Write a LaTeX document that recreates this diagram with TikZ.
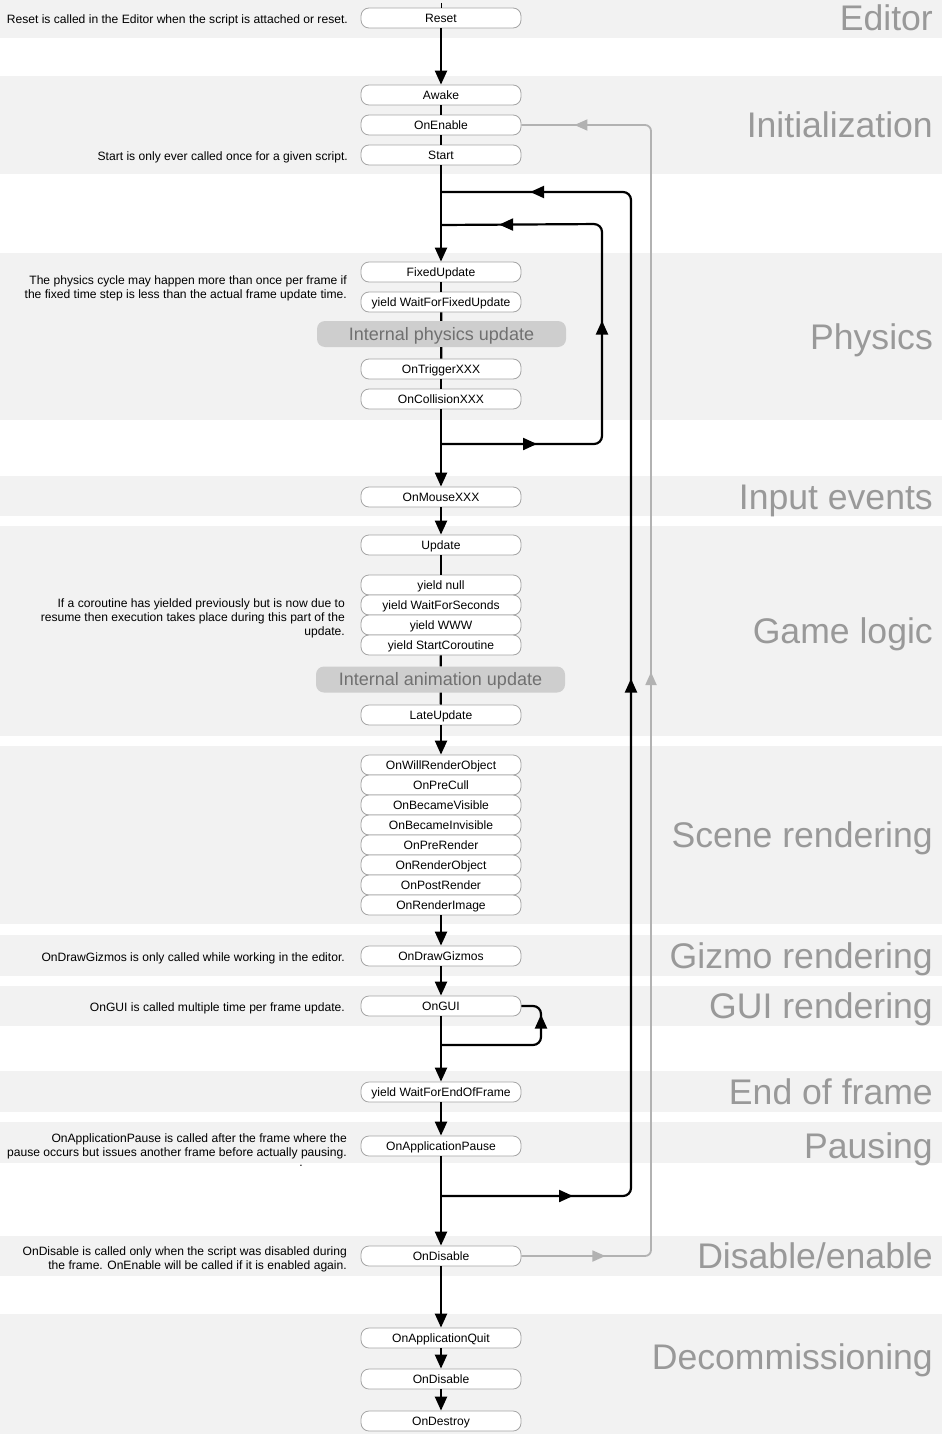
\documentclass[tikz,border=0pt]{standalone}
\usepackage{fontspec}
\setmainfont{Liberation Sans}
\usetikzlibrary{arrows.meta,decorations.markings}
\definecolor{band}{RGB}{242,242,242}
\definecolor{phasegray}{RGB}{153,153,153}
\definecolor{boxedge}{RGB}{165,165,165}
\definecolor{innerfill}{RGB}{206,206,206}
\definecolor{innertext}{RGB}{112,112,112}
\definecolor{backgray}{RGB}{178,178,178}

\begin{document}
\begin{tikzpicture}[x=1pt, y=-1pt,
	main/.style = {draw=boxedge, line width=0.8pt, fill=white, rounded corners=8pt, minimum width=160pt, minimum height=20pt, inner sep=0pt, text height=8.6pt, text depth=0pt, font={\fontsize{12.1}{14}\selectfont}},
	internal/.style = {fill=innerfill, rounded corners=8pt, minimum width=249pt, minimum height=26pt, inner sep=0pt, text=innertext, text height=12.9pt, text depth=0pt, font={\fontsize{18}{20}\selectfont}},
	note/.style = {anchor=east, align=right, inner sep=0pt, font={\fontsize{12.1}{14}\selectfont}},
	phase/.style = {anchor=east, inner sep=0pt, text=phasegray, text height=25.4pt, text depth=0pt, font={\fontsize{35.6}{38}\selectfont}},
	flow/.style = {line width=2.2pt},
	arr/.style = {flow, -{Triangle[length=14pt, width=12pt]}},
	midtip/.style = {postaction={decorate, decoration={markings, mark=at position #1 with {\arrow{Triangle[length=14pt, width=12pt]}}}}},
	backtip/.style = {postaction={decorate, decoration={markings, mark=at position #1 with {\arrow{Triangle[length=13pt, width=11pt]}}}}},
	backflow/.style = {line width=1.8pt, draw=backgray, rounded corners=6pt}]
	
	\fill[white] (0,0) rectangle (942,1434);
	\useasboundingbox (0,0) rectangle (942,1434);
	\fill[band] (0,0) rectangle (942,38);
	\fill[band] (0,76) rectangle (942,174);
	\fill[band] (0,253) rectangle (942,420);
	\fill[band] (0,476) rectangle (942,516);
	\fill[band] (0,526) rectangle (942,736);
	\fill[band] (0,746) rectangle (942,924);
	\fill[band] (0,935) rectangle (942,976);
	\fill[band] (0,986) rectangle (942,1026);
	\fill[band] (0,1071) rectangle (942,1112);
	\fill[band] (0,1122) rectangle (942,1163);
	\fill[band] (0,1236) rectangle (942,1276);
	\fill[band] (0,1314) rectangle (942,1434);
	
	\node[phase] (editor) at (933,18) {Editor};
	\node[phase] (init) at (933,125) {Initialization};
	\node[phase] (physics) at (933,337) {Physics};
	\node[phase] (input) at (933,497) {Input events};
	\node[phase] (logic) at (933,631) {Game logic};
	\node[phase] (scene) at (933,835) {Scene rendering};
	\node[phase] (gizmo) at (933,956) {Gizmo rendering};
	\node[phase] (guir) at (933,1006) {GUI rendering};
	\node[phase] (eof) at (933,1092) {End of frame};
	\node[phase] (pausing) at (933,1146) {Pausing};
	\node[phase] (disen) at (933,1256) {Disable/enable};
	\node[phase] (decom) at (933,1357) {Decommissioning};
	
	\node[note] (n1) at (348,20) {Reset is called in the Editor when the script is attached or reset.};
	\node[note] (n2) at (348,157) {Start is only ever called once for a given script.};
	\node[note] (n3) at (347,288) {The physics cycle may happen more than once per frame if\\the fixed time step is less than the actual frame update time.};
	\node[note] (n4) at (345,618) {If a coroutine has yielded previously but is now due to\\resume then execution takes place during this part of the\\update.};
	\node[note] (n5) at (345,958) {OnDrawGizmos is only called while working in the editor.};
	\node[note] (n6) at (345,1008) {OnGUI is called multiple time per frame update.};
	\node[note] (n7) at (347,1146) {OnApplicationPause is called after the frame where the\\pause occurs but issues another frame before actually pausing.};
	\node[note] (n8) at (303,1166) {.};
	\node[note] (n9) at (347,1259) {OnDisable is called only when the script was disabled during\\the frame. OnEnable will be called if it is enabled again.};
	
	\node[main] (reset) at (441,18) {Reset};
	\node[main] (awake) at (441,95) {Awake};
	\node[main] (onenable) at (441,125) {OnEnable};
	\node[main] (start) at (441,155) {Start};
	\node[main] (fixedupd) at (441,272) {FixedUpdate};
	\node[main] (waitfixed) at (441,302) {yield WaitForFixedUpdate};
	\node[internal] (physint) at (441.5,334) {Internal physics update};
	\node[main] (trigger) at (441,369) {OnTriggerXXX};
	\node[main] (collision) at (441,399) {OnCollisionXXX};
	\node[main] (mouse) at (441,497) {OnMouseXXX};
	\node[main] (update) at (441,545) {Update};
	\node[main] (ynull) at (441,585) {yield null};
	\node[main] (yseconds) at (441,605) {yield WaitForSeconds};
	\node[main] (ywww) at (441,625) {yield WWW};
	\node[main] (ycoroutine) at (441,645) {yield StartCoroutine};
	\node[internal] (animint) at (440.5,679.5) {Internal animation update};
	\node[main] (lateupd) at (441,715) {LateUpdate};
	\node[main] (r1) at (441,765) {OnWillRenderObject};
	\node[main] (r2) at (441,785) {OnPreCull};
	\node[main] (r3) at (441,805) {OnBecameVisible};
	\node[main] (r4) at (441,825) {OnBecameInvisible};
	\node[main] (r5) at (441,845) {OnPreRender};
	\node[main] (r6) at (441,865) {OnRenderObject};
	\node[main] (r7) at (441,885) {OnPostRender};
	\node[main] (r8) at (441,905) {OnRenderImage};
	\node[main] (gizmos) at (441,956) {OnDrawGizmos};
	\node[main] (gui) at (441,1006) {OnGUI};
	\node[main] (endframe) at (441,1092) {yield WaitForEndOfFrame};
	\node[main] (pause) at (441,1146) {OnApplicationPause};
	\node[main] (disable) at (441,1256) {OnDisable};
	\node[main] (quit) at (441,1338) {OnApplicationQuit};
	\node[main] (disable2) at (441,1379) {OnDisable};
	\node[main] (destroy) at (441,1421) {OnDestroy};
	
	\coordinate (top) at (441,3);
	\coordinate (physout) at (441,444);
	\coordinate (physback) at (441,225);
	\coordinate (frameout) at (441,1196);
	\coordinate (frameback) at (441,192);
	\coordinate (guiout) at (441,1045);
	
	\draw[line width=1pt] (top) -- (reset);
	\draw[arr] (reset) -- (awake);
	\draw[flow] (awake) -- (onenable);
	\draw[flow] (onenable) -- (start);
	\draw[arr] (start) -- (fixedupd);
	\draw[flow] (fixedupd) -- (waitfixed);
	\draw[flow] (waitfixed) -- (physint);
	\draw[flow] (physint) -- (trigger);
	\draw[flow] (trigger) -- (collision);
	\draw[arr] (collision) -- (mouse);
	\draw[arr] (mouse) -- (update);
	\draw[flow] (update) -- (ynull);
	\draw[flow] (ycoroutine) -- (animint);
	\draw[flow] (animint) -- (lateupd);
	\draw[arr] (lateupd) -- (r1);
	\draw[arr] (r8) -- (gizmos);
	\draw[arr] (gizmos) -- (gui);
	\draw[arr] (gui) -- (endframe);
	\draw[arr] (endframe) -- (pause);
	\draw[arr] (pause) -- (disable);
	\draw[arr] (disable) -- (quit);
	\draw[arr] (quit) -- (disable2);
	\draw[arr] (disable2) -- (destroy);
	
	\draw[flow, rounded corners=8pt, midtip=96pt, midtip=281pt, midtip=477pt] (physout) -| (602,224) -- (physback);
	\draw[flow, rounded corners=8pt, midtip=132pt, midtip=704pt, midtip=1288pt] (frameout) -| (631,192) -- (frameback);
	\draw[flow, rounded corners=8pt, midtip=127pt] (guiout) -| (541,1006) -- (gui.east);
	\draw[backflow, backtip=84pt, backtip=711pt, backtip=1332pt] (disable.east) -| (651,125) -- (onenable.east);
	
\end{tikzpicture}
\end{document}
